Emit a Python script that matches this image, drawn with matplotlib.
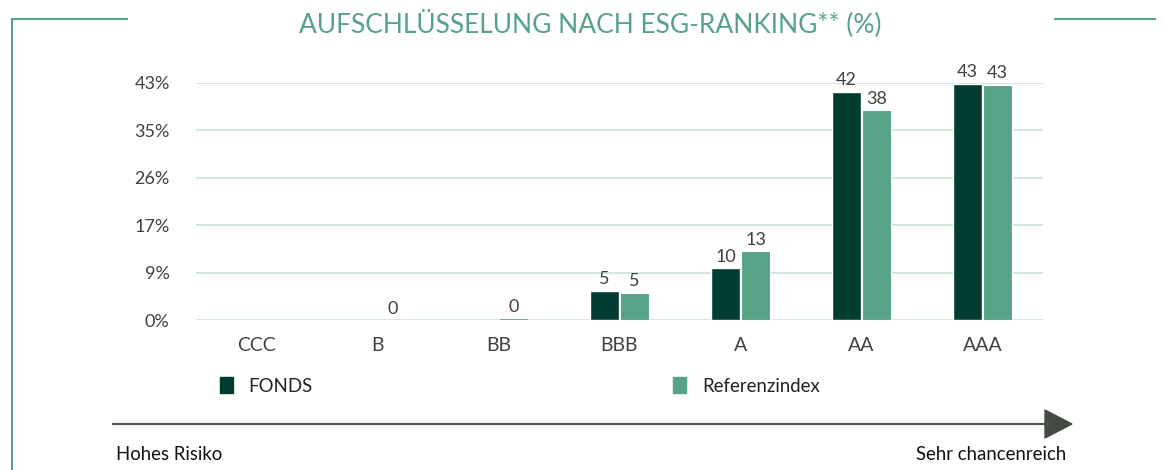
import matplotlib.pyplot as plt
import numpy as np
from matplotlib.lines import Line2D

plt.rcParams['font.family'] = ['Lato', 'DejaVu Sans']

# Data
categories = ['CCC', 'B', 'BB', 'BBB', 'A', 'AA', 'AAA']
fonds = [np.nan, np.nan, np.nan, 5.4, 9.5, 41.8, 43.3]
referenz = [np.nan, 0.0, 0.35, 5.0, 12.6, 38.4, 43.1]
ytick_labels = ['0%', '9%', '17%', '26%', '35%', '43%']
y_max = 43.4

dark = '#003d30'
light = '#57a387'
text_col = '#404040'
grid_col = '#cde3d2'

fig = plt.figure(figsize=(11.64, 4.70), dpi=100)
ax = fig.add_axes([0.1684, 0.319, 0.7276, 0.5045])

x = np.arange(len(categories))
w = 0.245
off = 0.124
ax.bar(x - off, fonds, w, color=dark, edgecolor='white', linewidth=1, zorder=3)
ax.bar(x + off, referenz, w, color=light, edgecolor='white', linewidth=0.8, zorder=3)

# Value labels
for xs, vals in [(x - off, fonds), (x + off, referenz)]:
    for xi, v in zip(xs, vals):
        if np.isnan(v):
            continue
        ax.text(xi, v + 0.6, f'{v:.0f}', ha='center', va='bottom',
                fontsize=13, color=text_col, clip_on=False, zorder=4)

ax.set_xlim(-0.5, len(categories) - 0.5)
ax.set_ylim(0, y_max)
ax.set_yticks(np.linspace(0, y_max, 6))
ax.set_yticklabels(ytick_labels)
ax.set_xticks(x)
ax.set_xticklabels(categories)
ax.tick_params(axis='both', length=0, labelsize=13, labelcolor=text_col)
ax.tick_params(axis='x', labelsize=14, pad=12)
ax.tick_params(axis='y', pad=19)
ax.grid(axis='y', color=grid_col, linewidth=1.2, zorder=0)
for s in ax.spines.values():
    s.set_visible(False)

# Title
fig.text(0.507, 0.951, 'AUFSCHLÜSSELUNG NACH ESG-RANKING** (%)', ha='center', va='center',
         fontsize=19, color=light)

# Frame lines
fig.add_artist(Line2D([12 / 1164, 127 / 1164], [1 - 19 / 470] * 2, color=light, lw=1.5))
fig.add_artist(Line2D([12 / 1164] * 2, [1 - 19 / 470, 0], color=light, lw=1.5))
fig.add_artist(Line2D([1055 / 1164, 1155 / 1164], [1 - 19 / 470] * 2, color=light, lw=1.5))

# Legend
fig.add_artist(plt.Rectangle((220 / 1164, 1 - 393 / 470), 13 / 1164, 16 / 470, color=dark))
fig.text(248 / 1164, 1 - 386 / 470, 'FONDS', ha='left', va='center', fontsize=13.4, color='#222222')
fig.add_artist(plt.Rectangle((673 / 1164, 1 - 393 / 470), 13 / 1164, 16 / 470, color=light))
fig.text(702 / 1164, 1 - 386 / 470, 'Referenzindex', ha='left', va='center', fontsize=13.4, color='#222222')

# Arrow
fig.add_artist(Line2D([113 / 1164, 1050 / 1164], [1 - 424 / 470] * 2, color='#555555', lw=1.5))
fig.add_artist(plt.Polygon([[1045 / 1164, 1 - 410 / 470], [1072 / 1164, 1 - 424 / 470],
                            [1045 / 1164, 1 - 438 / 470]], closed=True, color='#444a44'))

fig.text(116 / 1164, 1 - 455 / 470, 'Hohes Risiko', ha='left', va='center', fontsize=13.4, color='#111111')
fig.text(1066 / 1164, 1 - 455 / 470, 'Sehr chancenreich', ha='right', va='center', fontsize=13.4, color='#111111')

fig.savefig('out.png', dpi=100)
